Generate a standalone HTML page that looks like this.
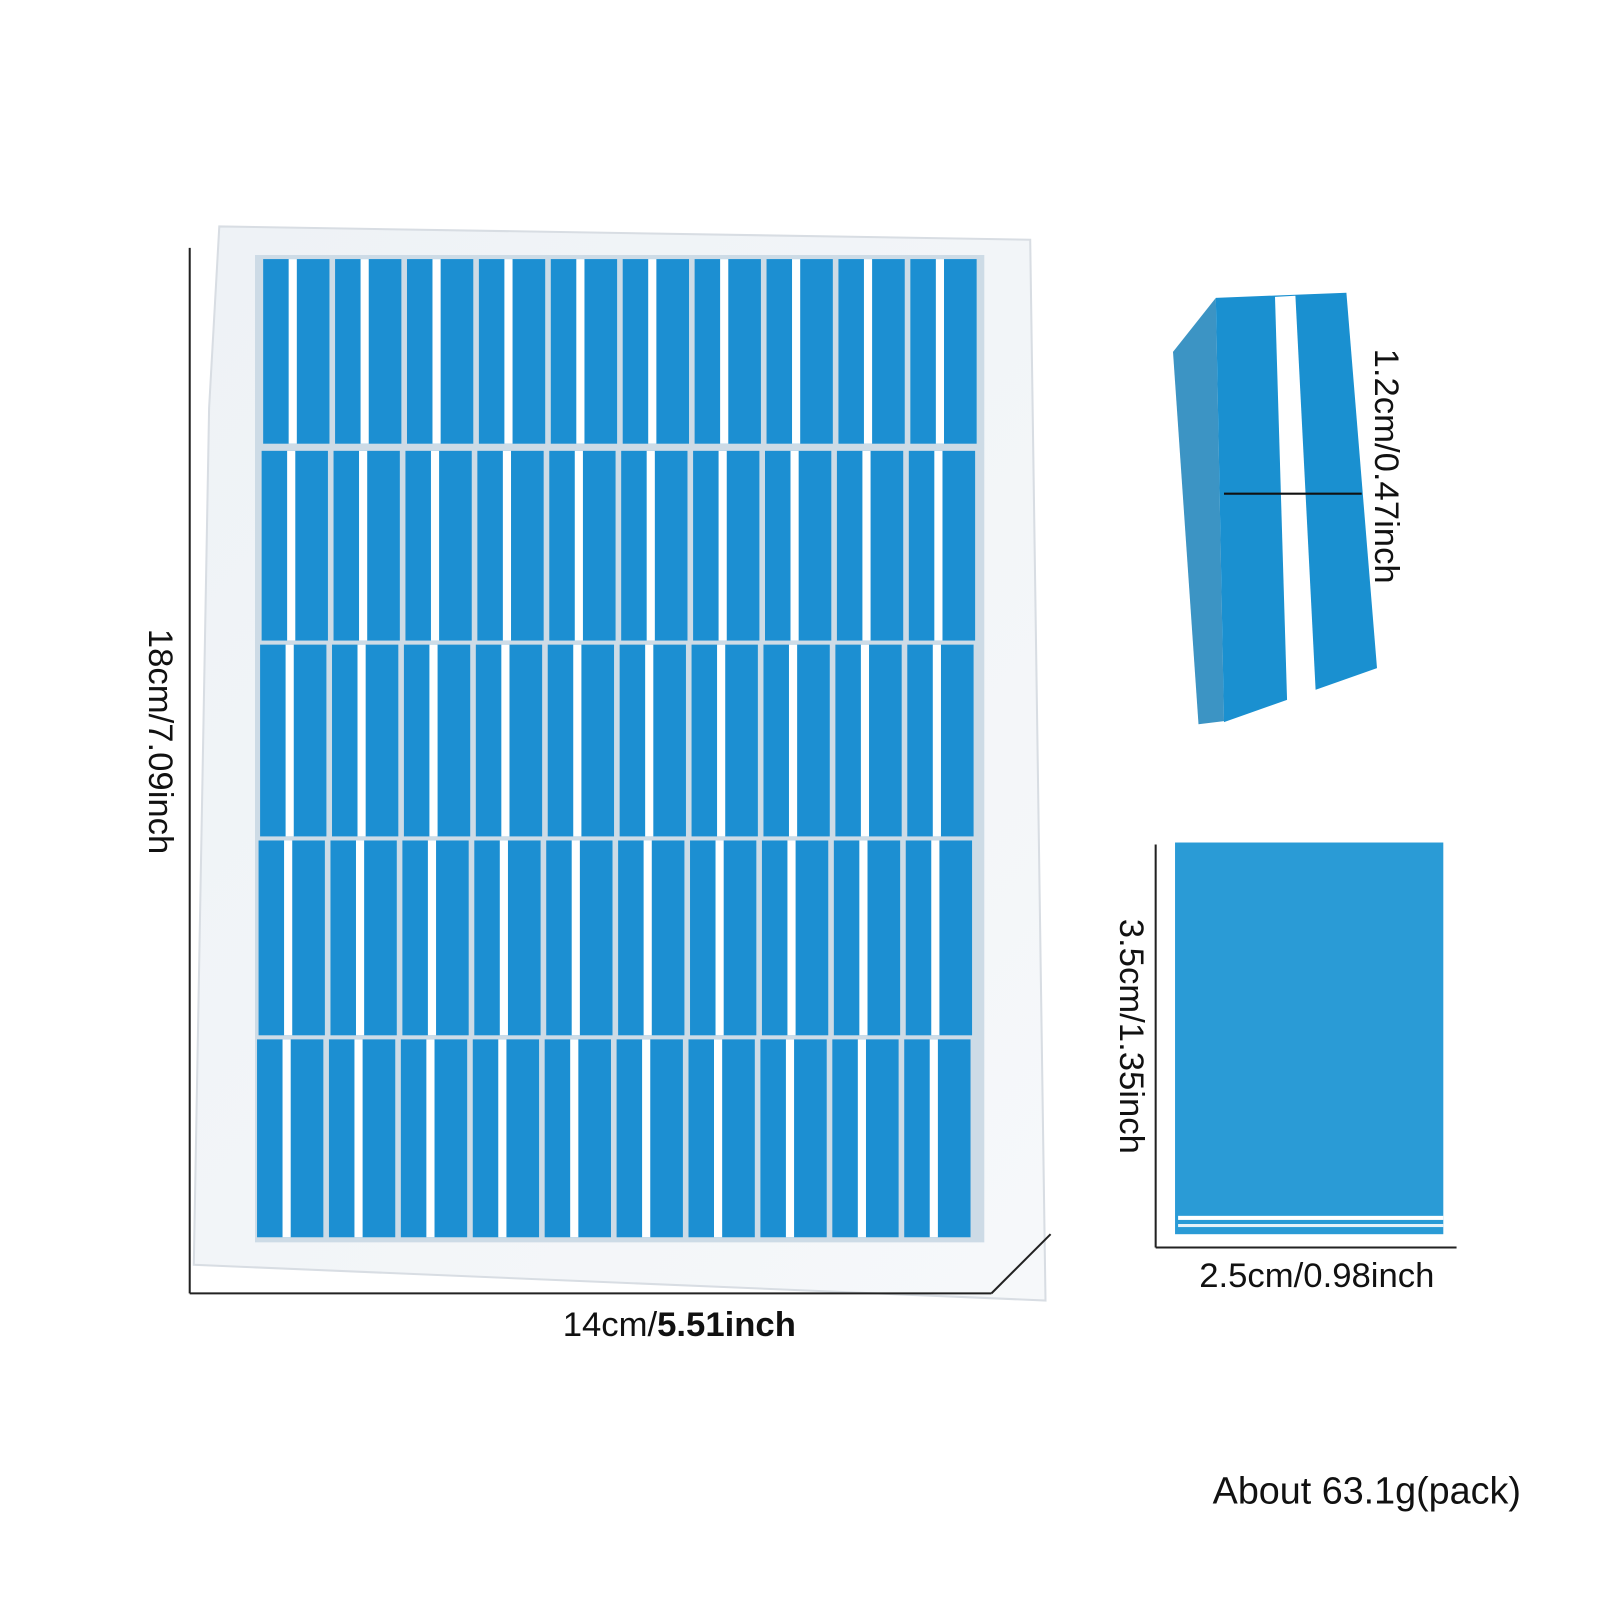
<!DOCTYPE html>
<html><head><meta charset="utf-8"><style>
html,body{margin:0;padding:0;background:#fff;}
svg{display:block;}
text{font-family:"Liberation Sans",sans-serif;fill:#111;}
</style></head><body>
<svg width="1600" height="1600" viewBox="0 0 1600 1600" xmlns="http://www.w3.org/2000/svg">
<defs>
<linearGradient id="bag" x1="0" y1="0" x2="1" y2="1">
<stop offset="0" stop-color="#eef2f6"/><stop offset="1" stop-color="#f6f8fa"/></linearGradient>
</defs>
<g transform="scale(1.02)">
<polygon points="215,222 1010,235 1025,1275 190,1240 205,400" fill="url(#bag)" stroke="#d8dde3" stroke-width="2"/>
<rect x="250" y="250" width="715" height="968" fill="#cddbe6"/>
<g id="grid"></g>
<line x1="186" y1="243" x2="186" y2="1268" stroke="#222" stroke-width="2"/>
<line x1="186" y1="1268" x2="972" y2="1268" stroke="#222" stroke-width="2"/>
<line x1="972" y1="1268" x2="1030" y2="1210" stroke="#222" stroke-width="2"/>
<text font-size="34" transform="translate(146,727) rotate(90)" text-anchor="middle">18cm/7.09inch</text>
<text x="666" y="1310" font-size="34" text-anchor="middle">14cm/<tspan font-weight="bold">5.51inch</tspan></text>
<polygon points="1150,345 1192,292 1200,707 1175,710" fill="#3c94c4"/>
<polygon points="1192,292 1320,287 1350,655 1200,708" fill="#1a90d0"/>
<polygon points="1250,291 1270,290 1290,680 1262,692" fill="#fff"/>
<line x1="1200" y1="484" x2="1335" y2="484" stroke="#111" stroke-width="2"/>
<text font-size="34" transform="translate(1348,457) rotate(90)" text-anchor="middle">1.2cm/0.47inch</text>
<rect x="1152" y="826" width="263" height="384" fill="#2a9bd6"/>
<rect x="1155" y="1192" width="260" height="4" fill="#fff"/>
<rect x="1155" y="1200" width="260" height="3" fill="#e8f2f8"/>
<line x1="1133" y1="828" x2="1133" y2="1223" stroke="#222" stroke-width="2"/>
<line x1="1133" y1="1223" x2="1428" y2="1223" stroke="#222" stroke-width="2"/>
<text font-size="34" transform="translate(1098,1016) rotate(90)" text-anchor="middle">3.5cm/1.35inch</text>
<text x="1291" y="1262" font-size="34" text-anchor="middle">2.5cm/0.98inch</text>
<text x="1340" y="1474" font-size="37" text-anchor="middle">About 63.1g(pack)</text>
</g>
</svg>
<script>
var g=document.getElementById('grid'),s='';
var rows=[[252,437],[440,630],[630,822],[822,1017],[1017,1215]];
for(var r=0;r<5;r++)for(var c=0;c<10;c++){
 var x=258+c*70.5-(r*1.5),w=65,y=rows[r][0]+2,h=rows[r][1]-rows[r][0]-4;
 s+='<rect x="'+x+'" y="'+y+'" width="'+w+'" height="'+h+'" fill="#1c8fd2"/>';
 s+='<rect x="'+(x+25)+'" y="'+y+'" width="8" height="'+h+'" fill="#fff"/>';
}
g.innerHTML=s;
</script>
</body></html>
